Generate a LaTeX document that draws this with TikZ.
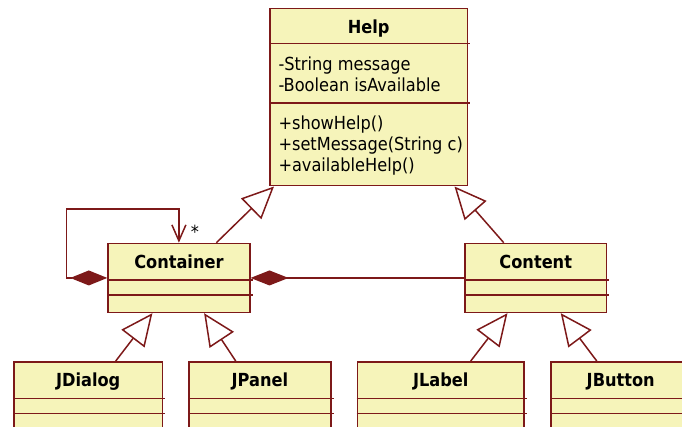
\documentclass[tikz,border=0pt]{standalone}
\usepackage{fontspec}
\setmainfont{DejaVu Sans Condensed}
\usetikzlibrary{arrows.meta}
\definecolor{umlfill}{RGB}{246,244,186}
\definecolor{umlline}{RGB}{125,25,25}
\begin{document}
\begin{tikzpicture}[x=1pt,y=-1pt,
  cls/.style={draw=umlline, fill=umlfill, line width=1.5pt, inner sep=0pt, anchor=north west, rectangle},
  clstitle/.style={font=\fontsize{18}{21}\selectfont\bfseries, anchor=base, inner sep=0pt},
  member/.style={font=\fontsize{18}{21}\selectfont, anchor=base west, inner sep=0pt},
  sepline/.style={draw=umlline, line width=1.5pt},
  conn/.style={draw=umlline, line width=1.5pt},
  inh/.style={conn, -{Triangle[open, length=32pt, width=29pt, fill=white]}},
  comp/.style={conn, {Diamond[length=38pt, width=15pt]}-},
  selfcomp/.style={conn, {Diamond[length=37pt, width=15pt]}-{Straight Barb[length=16pt, width=14pt]}}
]
\path[use as bounding box, clip] (0,0) rectangle (682,427);

% class boxes
\node[cls, minimum width=197.7pt, minimum height=177pt] (help) at (269,8) {};
\node[cls, minimum width=141.7pt, minimum height=69pt] (container) at (107.3,242.7) {};
\node[cls, minimum width=141.4pt, minimum height=69pt] (content) at (464.3,242.7) {};
\node[cls, minimum width=148.4pt, minimum height=100pt] (jdialog) at (13.3,361) {};
\node[cls, minimum width=141.7pt, minimum height=100pt] (jpanel) at (188.3,361) {};
\node[cls, minimum width=166.6pt, minimum height=100pt] (jlabel) at (356.7,361) {};
\node[cls, minimum width=140pt, minimum height=100pt] (jbutton) at (550,361) {};

% separators
\draw[sepline] ([yshift=-35.5pt]help.north west) -- ([yshift=-35.5pt, xshift=2pt]help.north east);
\draw[sepline] ([yshift=-95pt]help.north west) -- ([yshift=-95pt, xshift=2pt]help.north east);
\foreach \c in {container,content,jdialog,jpanel,jlabel,jbutton}{
  \draw[sepline] ([yshift=-37.3pt]\c.north west) -- ([yshift=-37.3pt, xshift=2pt]\c.north east);
  \draw[sepline] ([yshift=-52.3pt]\c.north west) -- ([yshift=-52.3pt, xshift=2pt]\c.north east);
}

% titles
\node[clstitle] (helpT) at ([yshift=-25.5pt]help.north) {Help};
\node[clstitle] (containerT) at ([yshift=-25.6pt]container.north) {Container};
\node[clstitle] (contentT) at ([yshift=-25.6pt]content.north) {Content};
\node[clstitle] (jdialogT) at ([yshift=-25pt]jdialog.north) {JDialog};
\node[clstitle] (jpanelT) at ([yshift=-25pt]jpanel.north) {JPanel};
\node[clstitle] (jlabelT) at ([yshift=-25pt]jlabel.north) {JLabel};
\node[clstitle] (jbuttonT) at ([yshift=-25pt]jbutton.north) {JButton};

% members
\node[member] (helpA1) at ([xshift=9.3pt, yshift=-62.5pt]help.north west) {-String message};
\node[member] (helpA2) at ([xshift=9.3pt, yshift=-83.7pt]help.north west) {-Boolean isAvailable};
\node[member] (helpM1) at ([xshift=9.3pt, yshift=-121.3pt]help.north west) {+showHelp()};
\node[member] (helpM2) at ([xshift=9.3pt, yshift=-142.7pt]help.north west) {+setMessage(String c)};
\node[member] (helpM3) at ([xshift=9.3pt, yshift=-163.7pt]help.north west) {+availableHelp()};

% inheritance
\draw[inh] ([xshift=37.5pt]container.north) -- ([xshift=5pt]help.south west);
\draw[inh] ([xshift=-32pt]content.north) -- ([xshift=-13.7pt]help.south east);
\draw[inh] ([xshift=27.5pt]jdialog.north) -- ([xshift=-26.5pt]container.south);
\draw[inh] ([xshift=-24.2pt]jpanel.north) -- ([xshift=25.2pt]container.south);
\draw[inh] ([xshift=30pt]jlabel.north) -- ([xshift=-28.3pt]content.south);
\draw[inh] ([xshift=-24pt]jbutton.north) -- ([xshift=25pt]content.south);

% composition
\draw[comp] (container.east) -- (content.west);
\coordinate (loopc) at (66.7,209);
\draw[selfcomp] (container.west) -| (loopc) -| (container.north);
\node[font=\fontsize{18}{21}\selectfont, inner sep=0pt] (star) at (195,232) {*};
\end{tikzpicture}
\end{document}
